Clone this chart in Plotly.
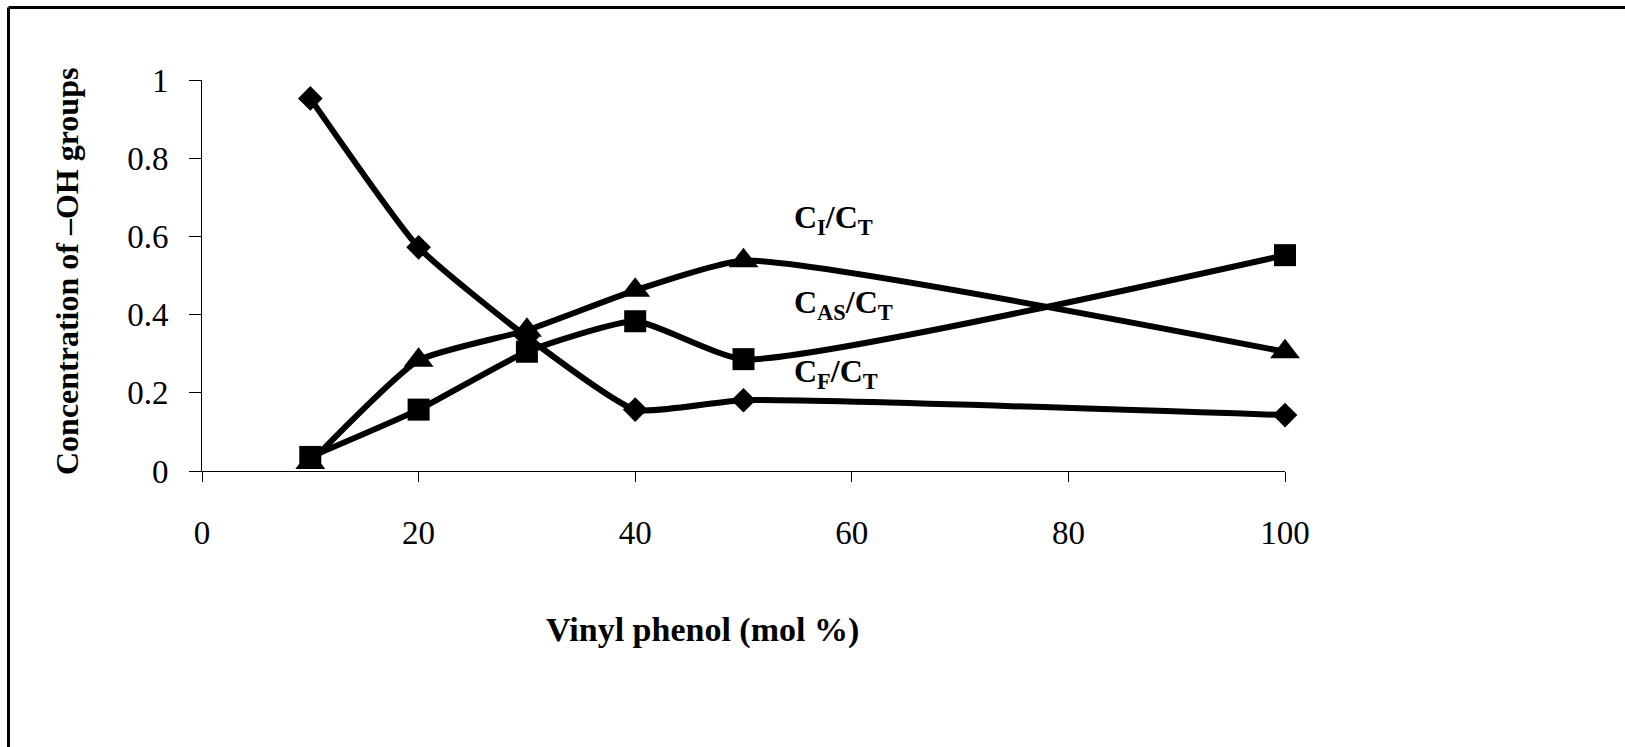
import plotly.graph_objects as go

# Vinyl phenol content (mol %)
vinyl_phenol = [10, 20, 30, 40, 50, 100]

# Fractions of -OH groups relative to total
cf_ct = [0.953, 0.572, 0.343, 0.157, 0.181, 0.143]    # free
ci_ct = [0.022, 0.283, 0.360, 0.462, 0.538, 0.305]    # intra-associated
cas_ct = [0.036, 0.157, 0.305, 0.383, 0.286, 0.552]   # associated

x_ticks = [0, 20, 40, 60, 80, 100]
y_ticks = [0, 0.2, 0.4, 0.6, 0.8, 1]

series_labels = ["C<sub>I</sub>/C<sub>T</sub>",
                 "C<sub>AS</sub>/C<sub>T</sub>",
                 "C<sub>F</sub>/C<sub>T</sub>"]
label_x = [54.5, 54.5, 54.5]
label_y = [0.642, 0.427, 0.249]

W, H = 1625, 747
L, R, T, B = 202, 340, 80, 276
PW, PH = W - L - R, H - T - B

SERIF = "Liberation Serif, Times New Roman, serif"
LINE_W = 6


def px_to_paper(px, py):
    return (px - L) / PW, (H - B - py) / PH


fig = go.Figure()

common = dict(mode="lines+markers", line=dict(color="black", width=LINE_W, shape="spline", smoothing=0.5),
              showlegend=False, hoverinfo="x+y", cliponaxis=False)

fig.add_trace(go.Scatter(x=vinyl_phenol, y=cf_ct, name="CF/CT",
                         marker=dict(symbol="diamond", size=19, color="black"), **common))
fig.add_trace(go.Scatter(x=vinyl_phenol, y=cas_ct, name="CAS/CT",
                         marker=dict(symbol="square", size=22, color="black"), **common))
fig.add_trace(go.Scatter(x=vinyl_phenol, y=ci_ct, name="CI/CT",
                         marker=dict(symbol="triangle-up", size=26, color="black"), **common))

# series labels beside the curves
for txt, lx, ly in zip(series_labels, label_x, label_y):
    fig.add_annotation(x=lx, y=ly, xref="x", yref="y", text=f"<b>{txt}</b>",
                       showarrow=False, xanchor="left", yanchor="middle",
                       font=dict(family=SERIF, size=32, color="black"))

# axis titles
ux, uy = px_to_paper(702, 630)
fig.add_annotation(x=ux, y=uy, xref="paper", yref="paper", text="<b>Vinyl phenol (mol %)</b>",
                   showarrow=False, xanchor="center", yanchor="middle",
                   font=dict(family=SERIF, size=34, color="black"))
ux, uy = px_to_paper(67, 272)
fig.add_annotation(x=ux, y=uy, xref="paper", yref="paper", text="<b>Concentration of –OH groups</b>",
                   showarrow=False, textangle=-90, xanchor="center", yanchor="middle",
                   font=dict(family=SERIF, size=32, color="black"))

# frame lines along the top and left of the chart area
x0, y0 = px_to_paper(8.5, 7.5)
x1, _ = px_to_paper(W, 7.5)
_, yb = px_to_paper(8.5, H)
fig.add_shape(type="line", xref="paper", yref="paper", x0=x0, y0=y0, x1=x1, y1=y0,
              line=dict(color="black", width=3))
fig.add_shape(type="line", xref="paper", yref="paper", x0=x0, y0=y0, x1=x0, y1=yb,
              line=dict(color="black", width=3))

fig.update_xaxes(range=[0, 100], tickvals=x_ticks, ticktext=[str(v) for v in x_ticks],
                 showline=True, linecolor="black", linewidth=1, ticks="outside", ticklen=10,
                 tickcolor="black", tickwidth=1, showgrid=False, zeroline=False,
                 tickfont=dict(family=SERIF, size=33, color="black"), ticklabelstandoff=22)
fig.update_yaxes(range=[0, 1], tickvals=y_ticks, ticktext=["0", "0.2", "0.4", "0.6", "0.8", "1"],
                 showline=True, linecolor="black", linewidth=1, ticks="outside", ticklen=12,
                 tickcolor="black", tickwidth=1, showgrid=False, zeroline=False,
                 tickfont=dict(family=SERIF, size=33, color="black"), ticklabelstandoff=14)

fig.update_layout(width=W, height=H, autosize=False,
                  margin=dict(l=L, r=R, t=T, b=B, pad=0),
                  paper_bgcolor="white", plot_bgcolor="white", showlegend=False)

fig.write_html("out.html")
